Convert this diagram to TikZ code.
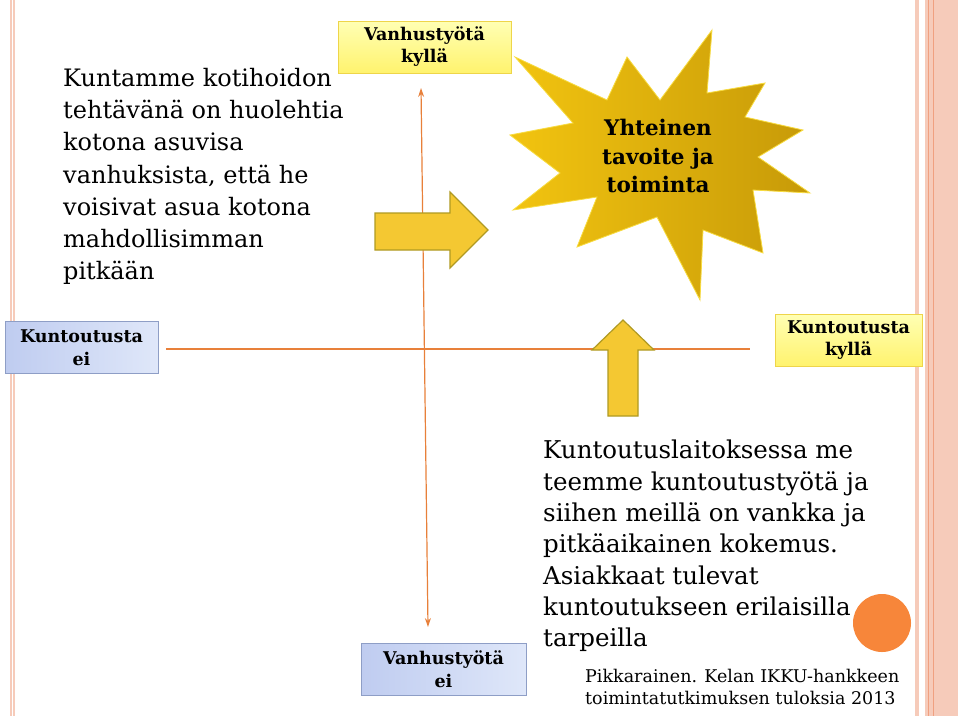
\documentclass[tikz,border=0pt]{standalone}
\usepackage{fontspec}
\setmainfont{DejaVu Serif}
\usetikzlibrary{arrows.meta}
\definecolor{stripe}{HTML}{F6CBBA}
\definecolor{stripeline}{HTML}{F0A080}
\definecolor{axis}{HTML}{E8803A}
\definecolor{boxgold}{HTML}{EED54A}
\definecolor{yestop}{HTML}{FFFFB4}
\definecolor{yesbottom}{HTML}{FFF36E}
\definecolor{boxblue}{HTML}{8E9EC6}
\definecolor{noleft}{HTML}{BFCCF0}
\definecolor{noright}{HTML}{DFE7F9}
\definecolor{arrowfill}{HTML}{F4C832}
\definecolor{arrowedge}{HTML}{B09A22}
\definecolor{starlight}{HTML}{F2C410}
\definecolor{stardark}{HTML}{C79A08}
\definecolor{staredge}{HTML}{F8DC40}
\definecolor{dotorange}{HTML}{F7863A}
\begin{document}
\begin{tikzpicture}[x=1pt,y=-1pt]
  \tikzstyle{yes box}=[draw=boxgold,line width=1pt,top color=yestop,bottom color=yesbottom,
    minimum height=52pt,align=center,font=\fontsize{17.5}{22}\selectfont\bfseries]
  \tikzstyle{no box}=[draw=boxblue,line width=1pt,left color=noleft,right color=noright,
    minimum height=52pt,align=center,font=\fontsize{17.5}{23}\selectfont\bfseries]
  \tikzstyle{block arrow}=[fill=arrowfill,draw=arrowedge,line width=1.2pt,line join=miter]
  \useasboundingbox[fill=white] (0,0) rectangle (960,716);
  % side stripes
  \fill[stripe] (10,0) rectangle (15,716);
  \draw[white,line width=0.8pt] (12.5,0) -- (12.5,716);
  \fill[stripe] (915,0) rectangle (919,716);
  \fill[stripe] (925,0) rectangle (958,716);
  \draw[stripeline,line width=0.8pt] (928,0) -- (928,716);
  \draw[stripeline,line width=0.8pt] (933,0) -- (933,716);
  % quadrant labels
  \node[yes box,minimum width=173pt] (vkylla) at (424.5,47) {Vanhustyötä\\kyllä};
  \node[no box,minimum width=165pt] (vei) at (443.5,669) {Vanhustyötä\\ei};
  \node[no box,minimum width=153pt] (kei) at (81.5,347.5) {Kuntoutusta\\ei};
  \node[yes box,minimum width=147pt] (kkylla) at (848.5,340) {Kuntoutusta\\kyllä};
  % axes
  \coordinate (vtop) at (421,88);
  \coordinate (vbot) at (428,627);
  \coordinate (hleft) at (166,349);
  \coordinate (hright) at (750,349);
  \draw[axis,line width=1.2pt,{Stealth[length=9pt,width=6pt]}-{Stealth[length=9pt,width=6pt]}] (vtop) -- (vbot);
  \draw[axis,line width=1.2pt] (hleft) -- (hright);
  % block arrows
  \draw[block arrow] (375,213) -- (450,213) -- (450,192) -- (488,230) -- (450,268)
    -- (450,250) -- (375,250) -- cycle;
  \draw[block arrow] (608,416) -- (608,350) -- (592,350) -- (623,320) -- (654,350)
    -- (638,350) -- (638,416) -- cycle;
  % star
  \shade[shading angle=60,left color=starlight,right color=stardark,draw=staredge,line width=0.8pt]
    (515,57) -- (607,100) -- (627,57) -- (660,100) -- (712,30) -- (707,93) -- (765,83)
    -- (745,117) -- (803,130) -- (758,157) -- (810,193) -- (753,190) -- (763,253)
    -- (703,230) -- (700,300) -- (657,217) -- (577,247) -- (597,197) -- (513,210)
    -- (560,173) -- (510,135) -- (573,123) -- cycle;
  \node[align=center,font=\fontsize{21.5}{28.5}\selectfont\bfseries] (goal) at (658,156)
    {Yhteinen\\tavoite ja\\toiminta};
  % texts
  \node[anchor=north west,inner sep=0pt,align=left,font=\fontsize{24}{32.2}\selectfont] (municipality) at (63,68)
    {Kuntamme kotihoidon\\tehtävänä on huolehtia\\kotona asuvisa\\vanhuksista, että he\\voisivat asua kotona\\mahdollisimman\\pitkään};
  \node[anchor=north west,inner sep=0pt,align=left,font=\fontsize{24.5}{31.3}\selectfont] (institution) at (543,440)
    {Kuntoutuslaitoksessa me\\teemme kuntoutustyötä ja\\siihen meillä on vankka ja\\pitkäaikainen kokemus.\\Asiakkaat tulevat\\kuntoutukseen erilaisilla\\tarpeilla};
  \node[anchor=north west,inner sep=0pt,align=left,font=\fontsize{17.5}{22}\selectfont] (source) at (585,669)
    {Pikkarainen. Kelan IKKU-hankkeen\\toimintatutkimuksen tuloksia 2013};
  \node[circle,fill=dotorange,minimum size=58pt,inner sep=0pt] (dot) at (882,623) {};
\end{tikzpicture}
\end{document}
